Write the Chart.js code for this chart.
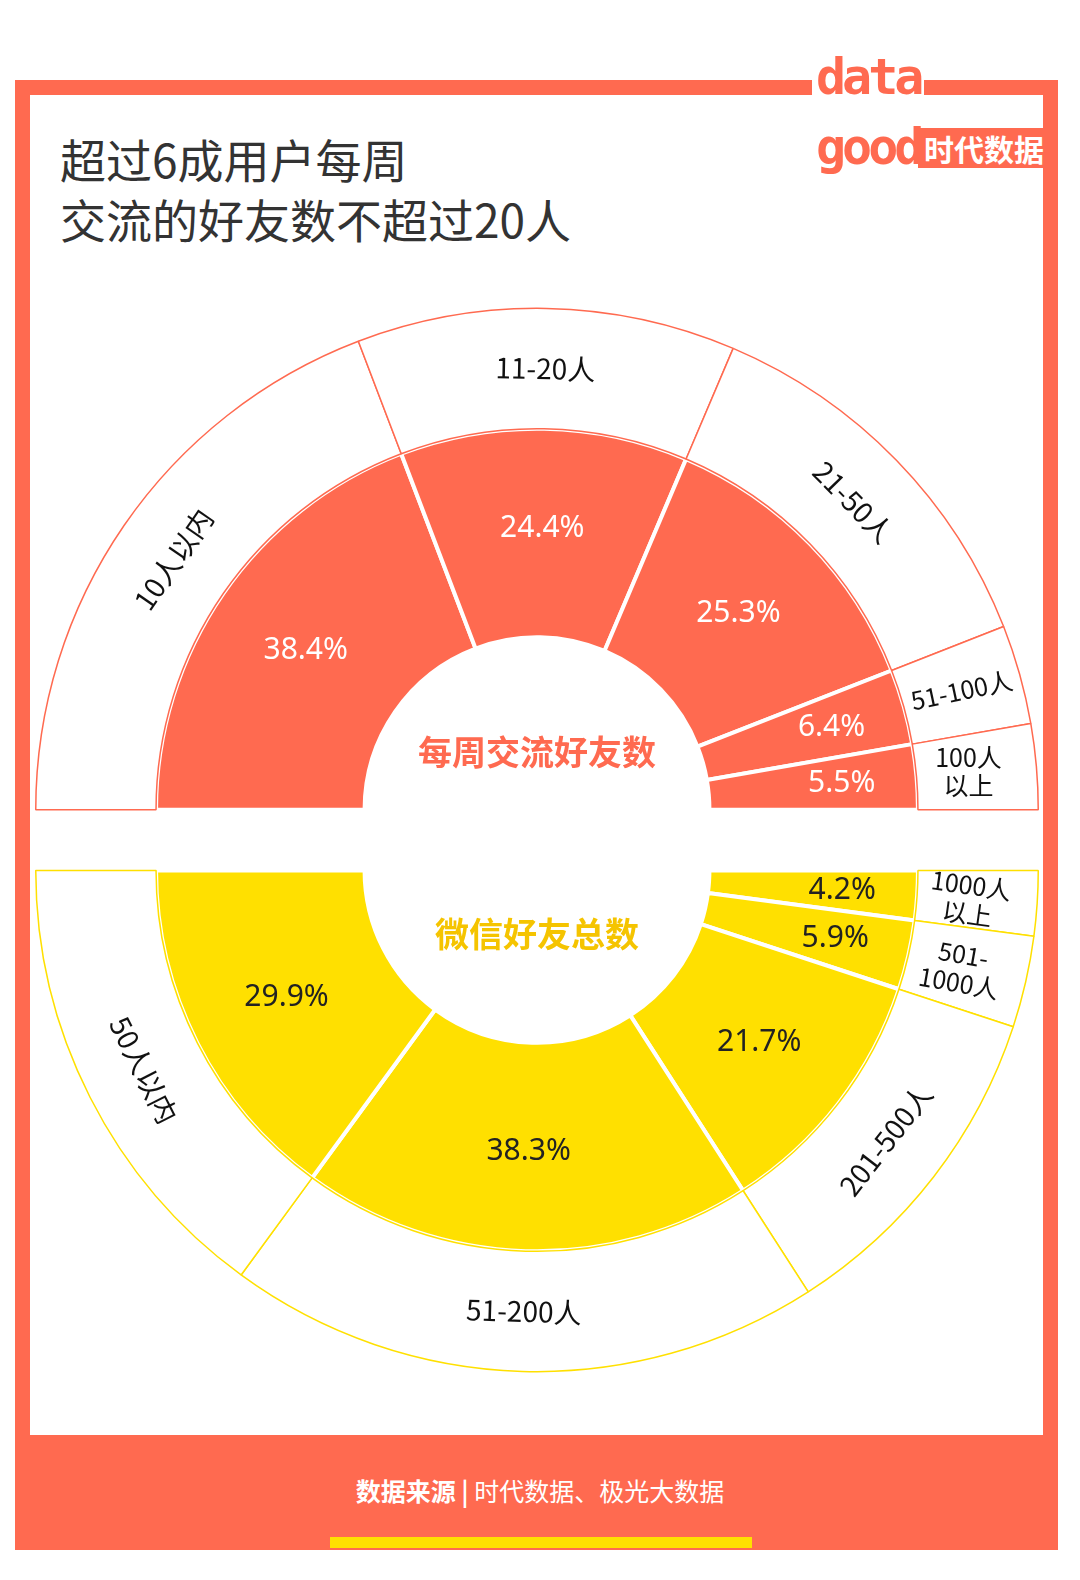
<!DOCTYPE html>
<html><head><meta charset="utf-8">
<script src="https://cdn.jsdelivr.net/npm/chart.js@4/dist/chart.umd.min.js"></script>
<style>
body{margin:0;width:1080px;height:1580px;background:#fff;position:relative;font-family:"Noto Sans CJK SC","Noto Sans",sans-serif;overflow:hidden}
.frame{position:absolute;left:15px;top:80px;width:1043px;height:1470px;background:#FF6A50}
.inner{position:absolute;left:30px;top:95px;width:1013px;height:1340px;background:#fff}
.title{position:absolute;left:60px;top:128px;font-size:46px;line-height:60px;color:#333}
.foot{position:absolute;left:0;top:1472px;width:1080px;text-align:center;color:#fff;font-size:25px}
.ybar{position:absolute;left:330px;top:1537px;width:422px;height:11px;background:#FFE000}
.logo{position:absolute;left:812px;top:42px;width:108px;height:155px;background:#fff;color:#FF6A50;font-weight:900;font-size:50px;line-height:70px;font-family:"DejaVu Sans Mono";letter-spacing:-4px;padding-left:4px}
.logo2{position:absolute;left:918px;top:128px;background:#FF6A50;color:#fff;font-size:30px;padding:0 6px;font-weight:bold;line-height:40px}
canvas{position:absolute}
</style></head><body>
<div class="frame"></div><div class="inner"></div>
<div class="logo">data<br>good</div><div class="logo2">时代数据</div>
<div class="title">超过6成用户每周<br>交流的好友数不超过20人</div>
<div class="foot"><b>数据来源</b> <b>|</b> 时代数据、极光大数据</div>
<div class="ybar"></div>
<div style="position:absolute;left:35px;top:306px;width:1004px;height:506px"><canvas id="c1"></canvas></div>
<div style="position:absolute;left:35px;top:868px;width:1004px;height:506px"><canvas id="c2"></canvas></div>
<script>
const weeklyCats=["10人以内","11-20人","21-50人","51-100人","100人\n以上"];
const weeklyVals=[38.4,24.4,25.3,6.4,5.5];
// bottom chart drawn clockwise from right, so listed right to left
const totalCats=["1000人\n以上","501-\n1000人","201-500人","51-200人","50人以内"];
const totalVals=[4.2,5.9,21.7,38.3,29.9];

const ORANGE="#FF6A50",YELLOW="#FFE000";
const labelPlugin={id:'lbl',afterDraw(chart,args,o){
  const ctx=chart.ctx;
  const outer=chart.getDatasetMeta(0).data, inner=chart.getDatasetMeta(1).data;
  ctx.save();ctx.textAlign='center';ctx.textBaseline='middle';
  inner.forEach((a,i)=>{const p=a.getProps(['x','y','startAngle','endAngle','innerRadius','outerRadius'],true);
    const m=(p.startAngle+p.endAngle)/2,r=(o.small[i]?0.64:0.52)*(p.outerRadius-p.innerRadius)+p.innerRadius;
    ctx.fillStyle=o.pctColor;ctx.font='30px "Noto Sans"';
    ctx.fillText(o.vals[i].toFixed(1)+'%',p.x+Math.cos(m)*r,p.y+Math.sin(m)*r);});
  outer.forEach((a,i)=>{const p=a.getProps(['x','y','startAngle','endAngle','innerRadius','outerRadius'],true);
    const m=(p.startAngle+p.endAngle)/2,r=(p.innerRadius+p.outerRadius)/2;
    let rot=o.rot[i]!==null?o.rot[i]*Math.PI/180:m+o.sign*Math.PI/2;
    ctx.save();ctx.translate(p.x+Math.cos(m)*r+(o.dx[i]||0),p.y+Math.sin(m)*r);ctx.rotate(rot);
    ctx.fillStyle='#111';const lines=o.cats[i].split('\n');const fs=o.small[i]?25:28;
    ctx.font=fs+'px "Noto Sans CJK SC"';
    lines.forEach((l,k)=>ctx.fillText(l,0,(k-(lines.length-1)/2)*fs*1.15));ctx.restore();});
  ctx.font='bold 34px "Noto Sans CJK SC"';ctx.fillStyle=o.cColor;
  const p=inner[0].getProps(['x','y'],true);ctx.fillText(o.center,p.x,p.y+o.cdy);
  ctx.restore();}};
function make(id,cats,vals,color,rot,opts){
  new Chart(document.getElementById(id),{type:'doughnut',
    data:{labels:cats,datasets:[
      {data:vals,backgroundColor:'#fff',borderColor:color,borderWidth:1.5,weight:120},
      {data:vals,backgroundColor:color,borderColor:'#fff',borderWidth:4,weight:208}]},
    options:{responsive:true,maintainAspectRatio:false,animation:false,rotation:rot,circumference:180,cutout:'34.4%',
      layout:{padding:0},plugins:{legend:{display:false},tooltip:{enabled:false},lbl:Object.assign({cats,vals},opts)}},
    plugins:[labelPlugin]});
}
make('c1',weeklyCats,weeklyVals,ORANGE,-90,{pctColor:'#fff',cColor:ORANGE,center:'每周交流好友数',cdy:-58,sign:1,
  small:[0,0,0,1,1],rot:[null,null,null,-12,0],dx:[0,0,0,0,-8]});
make('c2',totalCats,totalVals,YELLOW,90,{pctColor:'#222',cColor:'#F5C400',center:'微信好友总数',cdy:64,sign:-1,
  small:[1,1,0,0,0],rot:[8,10,null,null,null],dx:[-8,-6,0,0,0]});
</script></body></html>
